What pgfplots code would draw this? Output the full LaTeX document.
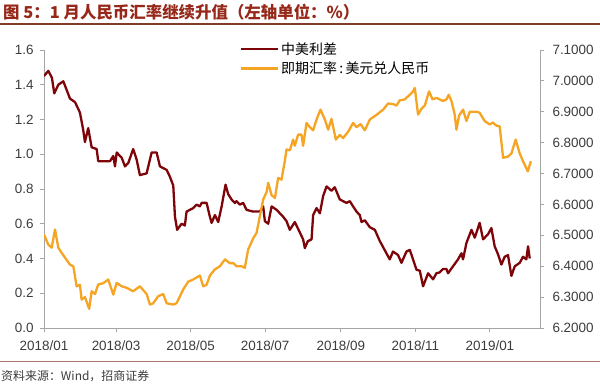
\documentclass[border=0pt]{standalone}
\usepackage{fontspec}
\setmainfont{Liberation Sans}
\newfontfamily\cjk{Noto Sans CJK SC}
\usepackage{pgfplots}
\pgfplotsset{compat=1.18}
\definecolor{spread}{RGB}{125,5,10}
\definecolor{fx}{RGB}{245,165,35}
\definecolor{titlec}{RGB}{150,40,25}
\definecolor{rulec}{RGB}{130,60,40}
\definecolor{axc}{RGB}{165,165,165}
\definecolor{txt}{RGB}{60,60,60}
\begin{document}
\begin{tikzpicture}
\path[use as bounding box] (0,0) rectangle (600bp,386bp);
\node[anchor=west, font=\cjk\bfseries\fontsize{16.5}{17}\selectfont, text=titlec, inner sep=0] at (3bp,373.5bp) {图 5：1 月人民币汇率继续升值（左轴单位：\%）};
\draw[rulec, line width=1.2bp] (0,362bp) -- (600bp,362bp);
\draw[rulec!70, line width=0.9bp] (0,24.5bp) -- (600bp,24.5bp);
\node[anchor=west, font=\cjk\fontsize{12}{12}\selectfont, text=txt, inner sep=0] at (1bp,10bp) {资料来源：Wind，招商证券};
\pgfplotsset{
  base/.style={
    at={(44bp,58bp)}, anchor=south west, scale only axis,
    width=496bp, height=278bp, xmin=0, xmax=406,
    axis line style={-, draw=axc, line width=0.9bp},
    tick style={draw=axc, line width=0.9bp},
    tick align=outside, major tick length=4bp,
    /pgf/number format/assume math mode=true,
    ticklabel style={font=\fontsize{13.5}{13.5}\selectfont, text=txt},
  }
}
\begin{axis}[base,
  ymin=0, ymax=1.6,
  axis x line*=bottom, axis y line*=left,
  xtick={0,59,120,181,243,304,365},
  xticklabels={2018/01,2018/03,2018/05,2018/07,2018/09,2018/11,2019/01},
  xticklabel style={yshift=-5bp},
  ytick={0,0.2,0.4,0.6,0.8,1.0,1.2,1.4,1.6},
  yticklabel style={xshift=-3bp, /pgf/number format/.cd, fixed, fixed zerofill, precision=1},
  legend style={at={(0.3946,1.035)}, anchor=north west, draw=none, fill=none,
    font=\cjk\fontsize{14}{14.5}\selectfont, text=black, row sep=2bp, inner sep=0pt},
  legend cell align=left,
  legend image code/.code={\draw[#1, line width=2.3bp] (0bp,0bp) -- (37bp,0bp);},
]
\addplot[spread, line width=2.3bp, line join=round] coordinates {
(0,1.45)(3.5,1.48)(6.5,1.44)(8.4,1.35)(11.7,1.40)(15.8,1.42)(21.3,1.32)(25.4,1.30)(29.4,1.24)(32.1,1.14)(33.5,1.07)(36.2,1.15)(39,1.04)(43.1,1.03)(44.4,0.96)(54,0.96)(56.7,0.99)(58.1,0.93)(59.5,1.01)(63.6,0.98)(66.3,0.93)(69,0.95)(73,1.03)(75.8,0.97)(78.5,0.88)(84,0.89)(88.1,1.01)(92.2,1.01)(94.9,0.93)(100.4,0.91)(103.1,0.87)(105.8,0.82)(107.2,0.64)(109,0.565)(112.6,0.60)(115.3,0.59)(116.7,0.67)(122.1,0.69)(124.9,0.71)(127.6,0.70)(129,0.72)(133.1,0.72)(135.8,0.64)(137.2,0.605)(139.9,0.65)(142.6,0.61)(145.4,0.70)(148.6,0.825)(150.8,0.77)(153.5,0.74)(156.2,0.72)(157.6,0.73)(160.3,0.71)(163,0.72)(165.8,0.68)(171.2,0.67)(176.7,0.67)(179.4,0.70)(180.8,0.615)(183.5,0.60)(186.3,0.70)(190.4,0.68)(195.8,0.64)(198.5,0.615)(201.2,0.565)(205.3,0.61)(209.4,0.55)(212.1,0.51)(213.5,0.46)(216,0.50)(219,0.51)(220.3,0.65)(223.1,0.69)(225.8,0.66)(228.5,0.76)(231.3,0.815)(235.3,0.79)(238,0.81)(242.1,0.74)(247.6,0.72)(250.3,0.73)(253,0.70)(255.8,0.67)(258.5,0.65)(259.9,0.61)(262.6,0.62)(266.7,0.58)(270.8,0.565)(274.9,0.50)(280.3,0.43)(283,0.395)(285.7,0.44)(289.8,0.42)(292.6,0.375)(296.7,0.44)(299.4,0.45)(302.1,0.395)(304.9,0.335)(307.6,0.33)(310.3,0.24)(314.4,0.315)(318.5,0.28)(321.2,0.315)(323.9,0.32)(326.6,0.34)(329.4,0.34)(330.7,0.315)(334.8,0.355)(338.9,0.395)(341.7,0.43)(343,0.395)(345.8,0.49)(349.9,0.565)(352.6,0.52)(356.6,0.605)(359.4,0.51)(363.5,0.54)(366.2,0.575)(368.9,0.47)(371.6,0.425)(374.4,0.365)(377.1,0.41)(379.8,0.42)(382.6,0.30)(385.3,0.355)(389.4,0.375)(392.1,0.41)(394.8,0.395)(396.2,0.47)(397.6,0.40)
};
\addlegendentry{中美利差}
\addlegendimage{fx, line width=2.3bp}
\addlegendentry{即期汇率\,:\,美元兑人民币}
\end{axis}
\begin{axis}[base,
  ymin=6.2, ymax=7.1,
  axis x line=none, axis y line*=right,
  ytick={6.2,6.3,6.4,6.5,6.6,6.7,6.8,6.9,7.0,7.1},
  yticklabel style={xshift=5bp, /pgf/number format/.cd, fixed, fixed zerofill, precision=4},
]
\addplot[fx, line width=2.3bp, line join=round] coordinates {
(0,6.503)(3.5,6.47)(6.3,6.46)(9,6.519)(11.7,6.46)(14.5,6.443)(18.6,6.42)(21.3,6.405)(24,6.40)(26.7,6.335)(29.4,6.34)(30.8,6.292)(33.5,6.30)(37,6.262)(39,6.319)(41.7,6.31)(44.4,6.341)(48.5,6.345)(52.6,6.357)(56.7,6.308)(59.5,6.346)(63.6,6.335)(67.7,6.33)(73,6.319)(78.5,6.335)(84,6.31)(86.7,6.276)(89.4,6.28)(93.5,6.303)(97.6,6.31)(100.4,6.28)(105.8,6.276)(108.5,6.28)(114,6.325)(118,6.35)(122.1,6.357)(127.6,6.37)(130.3,6.335)(133.1,6.34)(135.8,6.37)(139.9,6.39)(144,6.40)(148.1,6.422)(152.1,6.41)(154.9,6.41)(157.6,6.40)(161.7,6.40)(164.4,6.395)(167.1,6.454)(171.2,6.49)(174,6.508)(176.7,6.562)(179.4,6.616)(182.2,6.64)(183.5,6.67)(186.3,6.63)(189,6.621)(191.7,6.686)(194.4,6.68)(197.1,6.74)(198.5,6.778)(201.2,6.775)(203.9,6.81)(205.3,6.79)(208,6.826)(210.8,6.826)(212.1,6.79)(214.9,6.864)(217.6,6.85)(220.3,6.84)(223.1,6.875)(226.3,6.907)(229.9,6.875)(232.6,6.842)(235.3,6.877)(238.9,6.81)(242.1,6.825)(244.8,6.815)(248.9,6.835)(253,6.864)(255.8,6.85)(259.1,6.86)(262.6,6.84)(266.7,6.875)(272.2,6.89)(277.6,6.907)(281.7,6.927)(285.8,6.925)(288.5,6.92)(291.2,6.937)(295.3,6.94)(298,6.95)(302.1,6.966)(303.5,6.977)(306.2,6.891)(309,6.91)(311.7,6.92)(315.2,6.966)(318,6.94)(321.2,6.945)(323.9,6.94)(326.6,6.935)(329.4,6.94)(331.3,6.955)(333.5,6.935)(336.2,6.891)(337.6,6.842)(339.8,6.888)(343,6.907)(345.8,6.87)(348.5,6.9)(354,6.9)(356.6,6.897)(360.7,6.87)(364.8,6.859)(367.5,6.865)(370.3,6.855)(373,6.853)(375.8,6.751)(379.8,6.755)(382.6,6.765)(386.1,6.81)(389.4,6.765)(392.1,6.74)(396,6.707)(398.5,6.74)
};
\end{axis}
\end{tikzpicture}
\end{document}
